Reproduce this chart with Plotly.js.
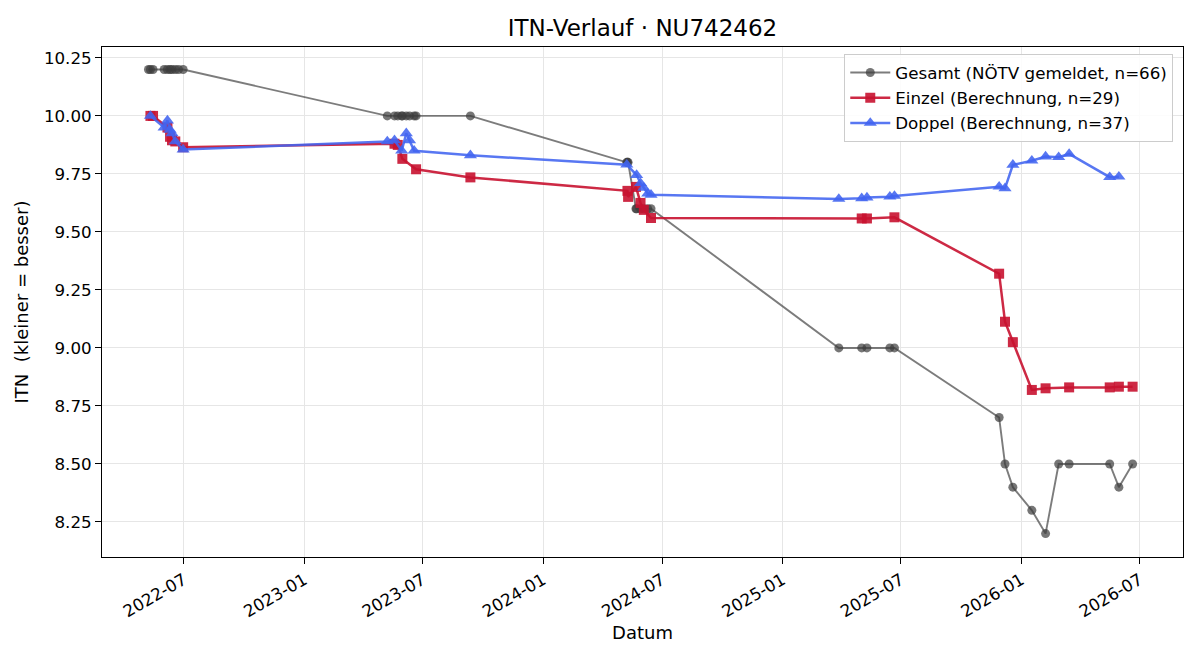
<!DOCTYPE html>
<html>
<head>
<meta charset="utf-8">
<script src="https://cdn.plot.ly/plotly-3.0.1.min.js"></script>
<style>html,body{margin:0;padding:0;background:#fff;}#chart{width:1200px;height:660px;}</style>
</head>
<body>
<div id="chart"></div>
<script>
// Gesamt (NÖTV gemeldet)
const gesamtDates = [
  "2022-05-08","2022-05-11","2022-05-15","2022-06-01","2022-06-06","2022-06-10","2022-06-13","2022-06-18","2022-06-23","2022-06-30",
  "2023-05-08","2023-05-19","2023-05-24","2023-05-30","2023-05-31","2023-06-06","2023-06-11","2023-06-18","2023-06-21","2023-09-12",
  "2024-05-08","2024-05-09","2024-05-10","2024-05-22","2024-05-23","2024-05-29","2024-06-03","2024-06-09","2024-06-14",
  "2025-03-28","2025-05-02","2025-05-10","2025-06-14","2025-06-21",
  "2025-11-28","2025-12-07","2025-12-19","2026-01-17","2026-02-07","2026-02-27","2026-03-15","2026-05-16","2026-05-30","2026-06-20"
];
const gesamtValues = [
  10.20,10.20,10.20,10.20,10.20,10.20,10.20,10.20,10.20,10.20,
  10.00,10.00,10.00,10.00,10.00,10.00,10.00,10.00,10.00,10.00,
  9.80,9.80,9.80,9.60,9.60,9.60,9.60,9.60,9.60,
  9.00,9.00,9.00,9.00,9.00,
  8.70,8.50,8.40,8.30,8.20,8.50,8.50,8.50,8.40,8.50
];

// Einzel (Berechnung)
const einzelDates = [
  "2022-05-11","2022-05-15","2022-06-06","2022-06-10","2022-06-13","2022-06-18","2022-06-30",
  "2023-05-19","2023-05-24","2023-05-31","2023-06-21","2023-09-12",
  "2024-05-09","2024-05-10","2024-05-22","2024-05-29","2024-06-03","2024-06-14",
  "2025-05-02","2025-05-10","2025-06-21",
  "2025-11-28","2025-12-07","2025-12-19","2026-01-17","2026-02-07","2026-03-15","2026-05-16","2026-05-30","2026-06-20"
];
const einzelValues = [
  10.00,10.00,9.95,9.91,9.895,9.89,9.865,
  9.880,9.875,9.815,9.770,9.735,
  9.677,9.651,9.694,9.625,9.595,9.560,
  9.558,9.558,9.563,
  9.320,9.113,9.025,8.819,8.826,8.830,8.830,8.833,8.833
];

// Doppel (Berechnung)
const doppelDates = [
  "2022-05-11","2022-06-01","2022-06-06","2022-06-10","2022-06-13","2022-06-18","2022-06-30",
  "2023-05-08","2023-05-19","2023-05-30","2023-06-06","2023-06-11","2023-06-18","2023-09-12",
  "2024-05-08","2024-05-23","2024-05-29","2024-06-03","2024-06-09","2024-06-14",
  "2025-03-28","2025-05-02","2025-05-10","2025-06-14","2025-06-21",
  "2025-11-28","2025-12-07","2025-12-19","2026-01-17","2026-02-07","2026-02-27","2026-03-15","2026-05-16","2026-05-30"
];
const doppelValues = [
  10.00,9.95,9.98,9.94,9.925,9.89,9.855,
  9.890,9.895,9.850,9.925,9.895,9.850,9.830,
  9.790,9.745,9.710,9.690,9.665,9.660,
  9.642,9.645,9.648,9.652,9.655,
  9.695,9.688,9.789,9.807,9.825,9.822,9.836,9.736,9.738
];

const seriesNames = ["Gesamt (NÖTV gemeldet, n=66)", "Einzel (Berechnung, n=29)", "Doppel (Berechnung, n=37)"];
const yTicks = [8.25, 8.50, 8.75, 9.00, 9.25, 9.50, 9.75, 10.00, 10.25];

const FONT = "DejaVu Sans, Verdana, sans-serif";
const TICK = 16.7;

const traces = [
  {
    x: gesamtDates, y: gesamtValues, name: seriesNames[0], type: "scatter", mode: "lines+markers",
    legendgroup: "g",
    line: {color: "rgba(68,68,68,0.7)", width: 1.9},
    marker: {symbol: "circle", size: 9, color: "rgb(60,60,60)", opacity: 0.7, line: {width: 0}}
  },
  {
    x: einzelDates, y: einzelValues, name: seriesNames[1], type: "scatter", mode: "lines+markers",
    legendgroup: "e",
    line: {color: "rgba(200,18,48,0.9)", width: 2.5},
    marker: {symbol: "square", size: 10, color: "rgb(200,18,48)", opacity: 0.9, line: {width: 0}}
  },
  {
    x: doppelDates, y: doppelValues, name: seriesNames[2], type: "scatter", mode: "lines+markers",
    legendgroup: "d",
    line: {color: "rgba(65,100,240,0.88)", width: 2.5},
    marker: {symbol: "triangle-up", size: 11.5, color: "rgb(65,100,240)", opacity: 0.88, line: {width: 0}}
  }
];

const layout = {
  width: 1200, height: 660,
  paper_bgcolor: "#fff", plot_bgcolor: "#fff",
  font: {family: FONT, size: TICK, color: "#000"},
  margin: {l: 102, r: 17, t: 47, b: 103, pad: 0},
  title: {text: "ITN-Verlauf · NU742462", font: {family: FONT, size: 23, color: "#000"},
          x: 0.5, xref: "paper", xanchor: "center", y: 1 - 28/660, yref: "container", yanchor: "middle"},
  showlegend: true,
  legend: {
    x: 0.991, xanchor: "right", y: 0.986, yanchor: "top",
    bgcolor: "rgba(255,255,255,0.85)", bordercolor: "#cccccc", borderwidth: 1,
    font: {family: FONT, size: TICK, color: "#000"},
    traceorder: "grouped", tracegroupgap: 0.5, itemwidth: 40
  },
  xaxis: {
    type: "date",
    range: ["2022-02-26", "2026-09-05"],
    tick0: "2022-01-01", dtick: "M6", tickformat: "%Y-%m",
    tickangle: -30,
    ticks: "outside", ticklen: 6, tickwidth: 1, tickcolor: "#000",
    showline: true, linecolor: "#000", linewidth: 1, mirror: true,
    showgrid: true, gridcolor: "#e6e6e6", gridwidth: 1,
    zeroline: false,
    tickfont: {family: FONT, size: TICK, color: "#000"},
    title: {text: "Datum", font: {family: FONT, size: 18, color: "#000"}, standoff: 6}
  },
  yaxis: {
    range: [8.099, 10.297],
    tickmode: "array", tickvals: yTicks, ticktext: yTicks.map(v => v.toFixed(2)),
    ticks: "outside", ticklen: 6, tickwidth: 1, tickcolor: "#000",
    showline: true, linecolor: "#000", linewidth: 1, mirror: true,
    showgrid: true, gridcolor: "#e6e6e6", gridwidth: 1,
    zeroline: false,
    tickfont: {family: FONT, size: TICK, color: "#000"},
    title: {text: "ITN\u00a0 (kleiner = besser)", font: {family: FONT, size: 18, color: "#000"}, standoff: 10}
  }
};

Plotly.newPlot("chart", traces, layout, {displayModeBar: false, staticPlot: true});
</script>
</body>
</html>
